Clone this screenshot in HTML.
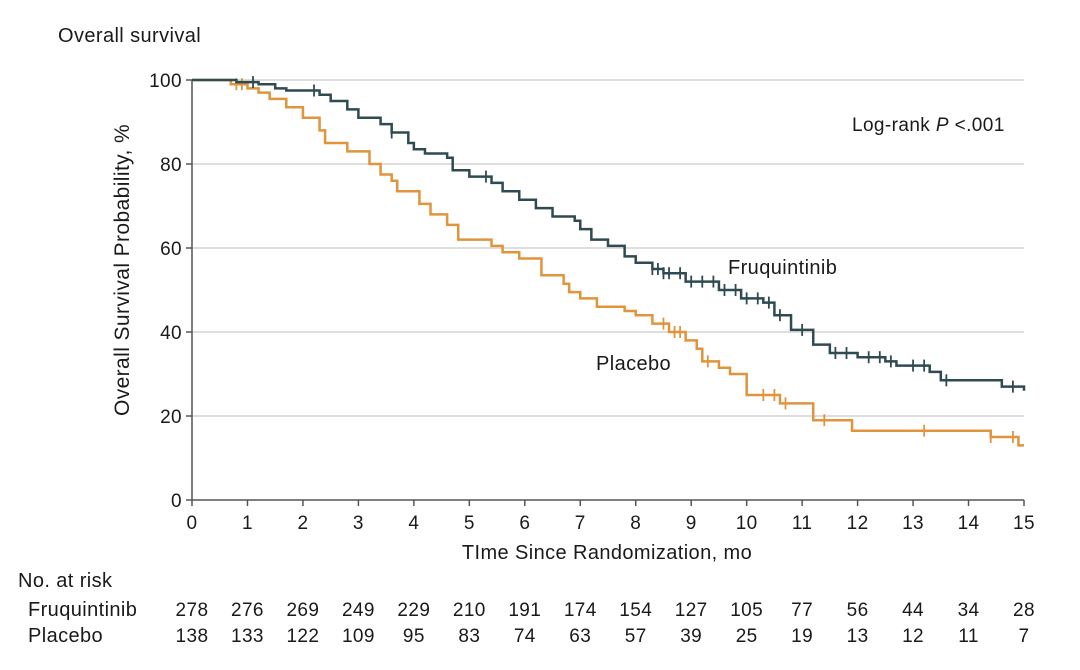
<!DOCTYPE html>
<html><head><meta charset="utf-8"><style>
body{margin:0;background:#fff;font-family:"Liberation Sans",sans-serif;}
svg text{font-family:"Liberation Sans",sans-serif;fill:#1a1a1a;letter-spacing:0.4px;}
</style></head><body>
<svg id="c" width="1080" height="665" xmlns="http://www.w3.org/2000/svg"></svg>
<script>
const xTicks=[0,1,2,3,4,5,6,7,8,9,10,11,12,13,14,15];
const yTicks=[0,20,40,60,80,100];
const fruqT=[0,0.7,0.8,1.2,1.5,1.7,2.3,2.5,2.8,3.0,3.4,3.6,3.9,4.0,4.2,4.6,4.7,5.0,5.4,5.6,5.9,6.2,6.5,6.9,7.0,7.2,7.5,7.8,8.0,8.3,8.5,8.9,9.5,9.9,10.3,10.5,10.8,11.2,11.5,12.0,12.5,12.7,13.3,13.5,14.6,15];
const fruqS=[100,100,99.5,99,98,97.5,96.5,95,93,91,89.5,87.5,85,83.5,82.5,81.5,78.5,77,75.5,73.5,71.5,69.5,67.5,66.5,64.5,62,60.5,58,56.5,55,54,52,50,48,47,44,40.5,37,35,34,33,32,30.5,28.5,27,26];
const placT=[0,0.7,1.0,1.2,1.4,1.7,2.0,2.3,2.4,2.8,3.2,3.4,3.6,3.7,4.1,4.3,4.6,4.8,5.4,5.6,5.9,6.3,6.7,6.8,7.0,7.3,7.8,8.0,8.3,8.6,8.9,9.1,9.2,9.5,9.7,10.0,10.6,11.2,11.9,14.4,14.9,15];
const placS=[100,99,98,97,95.5,93.5,91,88,85,83,80,77.5,76,73.5,70.5,68,65.5,62,60.5,59,57.5,53.5,51.5,49.5,48,46,45,44,42,40,38,36,33,31.5,30,25,23,19,16.5,15,13,13];
const fruqCens=[1.1,2.2,3.6,5.3,8.3,8.4,8.5,8.6,8.8,9.0,9.2,9.4,9.6,9.8,10.0,10.2,10.4,10.6,11.0,11.6,11.8,12.2,12.4,12.6,13.0,13.2,13.6,14.8];
const placCens=[0.8,0.9,8.5,8.7,8.8,9.3,10.3,10.5,10.7,11.4,13.2,14.4,14.8];
const riskFruq=[278,276,269,249,229,210,191,174,154,127,105,77,56,44,34,28];
const riskPlac=[138,133,122,109,95,83,74,63,57,39,25,19,13,12,11,7];
const X0=192,X1=1024,Y0=500,Y1=80;
const sx=t=>X0+(X1-X0)*t/15, sy=v=>Y0-(Y0-Y1)*v/100;
const svg=document.getElementById('c');const NS='http://www.w3.org/2000/svg';
function mk(tag,a,txt){const e=document.createElementNS(NS,tag);for(const k in a)e.setAttribute(k,a[k]);if(txt!==undefined)e.textContent=txt;svg.appendChild(e);return e;}
function survAt(T,S,t){let v=S[0];for(let i=0;i<T.length;i++){if(T[i]<=t)v=S[i];}return v;}
let e;
e=mk('text',{x:58,y:42,'font-size':20},'Overall survival');


yTicks.forEach(v=>{
 if(v>0){e=mk('line',{x1:X0,x2:X1,y1:sy(v),y2:sy(v),stroke:'#d4d4d4','stroke-width':1.5});
 
 }
 e=mk('line',{x1:X0-6,x2:X0,y1:sy(v),y2:sy(v),stroke:'#555','stroke-width':1.5});
 
 
 e=mk('text',{x:X0-10,y:sy(v)+7,'font-size':19,'text-anchor':'end'},v);
 
 
});
e=mk('line',{x1:X0,x2:X0,y1:Y1,y2:Y0,stroke:'#555','stroke-width':1.5});


e=mk('line',{x1:X0,x2:X1,y1:Y0,y2:Y0,stroke:'#555','stroke-width':1.5});


xTicks.forEach((t,i)=>{
 e=mk('line',{x1:sx(t),x2:sx(t),y1:Y0,y2:Y0+6,stroke:'#555','stroke-width':1.5});
 
 
 e=mk('text',{x:sx(t),y:529,'font-size':19,'text-anchor':'middle'},t);
 
 
 e=mk('text',{x:sx(t),y:616,'font-size':19,'text-anchor':'middle'},riskFruq[i]);
 
 
 e=mk('text',{x:sx(t),y:642,'font-size':19,'text-anchor':'middle'},riskPlac[i]);
 
 
});
e=mk('text',{x:607,y:559,'font-size':20,'text-anchor':'middle'},'TIme Since Randomization, mo');


e=mk('text',{x:0,y:0,'font-size':21,'text-anchor':'middle',transform:'translate(129,270) rotate(-90)'},'Overall Survival Probability, %');


e=mk('text',{x:18,y:587,'font-size':20},'No. at risk');


e=mk('text',{x:28,y:616,'font-size':20},'Fruquintinib');


e=mk('text',{x:28,y:642,'font-size':20},'Placebo');


function stepPath(T,S){let d='M'+sx(T[0])+','+sy(S[0]);for(let i=1;i<T.length;i++){d+=' H'+sx(T[i])+' V'+sy(S[i]);}return d;}
function drawCurve(T,S,C,col,name){
 e=mk('path',{d:stepPath(T,S),fill:'none',stroke:col,'stroke-width':2.5});
 
 
 C.forEach(t=>{const x=sx(t),y=sy(survAt(T,S,t));
  e=mk('line',{x1:x,x2:x,y1:y-6,y2:y+6,stroke:col,'stroke-width':1.8});
  
  });
}
drawCurve(placT,placS,placCens,'#e0943c','placebo');
drawCurve(fruqT,fruqS,fruqCens,'#2f4a50','fruquintinib');
e=mk('text',{x:728,y:274,'font-size':20},'Fruquintinib');


e=mk('text',{x:596,y:370,'font-size':20},'Placebo');


e=mk('text',{x:852,y:131,'font-size':19});
e.innerHTML='Log-rank <tspan font-style="italic">P</tspan> &lt;.001';


</script>
</body></html>
